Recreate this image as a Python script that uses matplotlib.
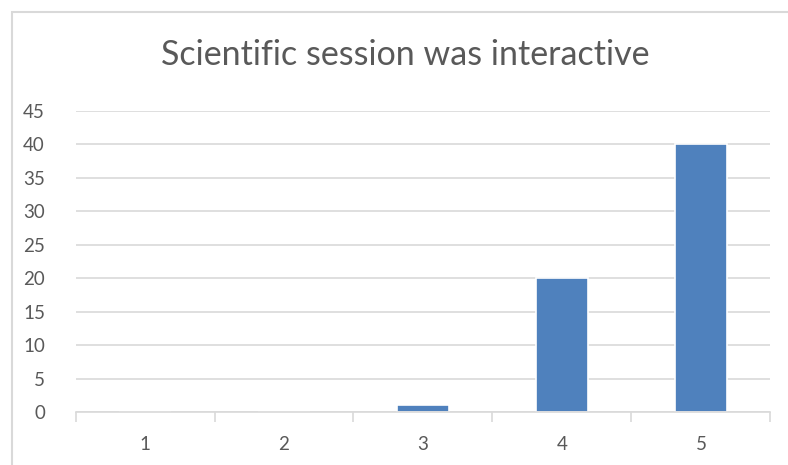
import matplotlib
matplotlib.use("Agg")
import matplotlib.pyplot as plt
from matplotlib.patches import Rectangle

# chart data
categories = ["1", "2", "3", "4", "5"]
counts = [0, 0, 1, 20, 40]
y_ticks = [0, 5, 10, 15, 20, 25, 30, 35, 40, 45]
title = "Scientific session was interactive"

plt.rcParams['font.family'] = ['Lato', 'DejaVu Sans']

W, H = 788, 465
fig = plt.figure(figsize=(W / 100, H / 100), dpi=100)

# outer chart border (cropped on right/bottom like the screenshot)
fig.patches.append(Rectangle((12 / W, -0.1), 1.2, 1 - 12 / H + 0.1,
                             transform=fig.transFigure, fill=False,
                             edgecolor="#d9d9d9", linewidth=1.5))

# plot area in pixels: left 75.5, right 770.5, top(45) 111, bottom(0) 412
ax = fig.add_axes([75.5 / W, (H - 412) / H, (770.5 - 75.5) / W, (412 - 111) / H])

x = range(len(categories))
ax.bar(x, counts, width=0.37, color="#4f81bd", edgecolor="white",
       linewidth=1.2, zorder=2)

ax.set_xlim(-0.5, len(categories) - 0.5)
ax.set_ylim(0, 45)
ax.set_yticks(y_ticks)
ax.set_xticks(list(x))
ax.set_xticklabels(categories)

ax.set_axisbelow(True)
ax.grid(axis="y", color="#d9d9d9", linewidth=1.2)
for s in ["top", "right", "left"]:
    ax.spines[s].set_visible(False)
ax.spines["bottom"].set_color("#d9d9d9")
ax.spines["bottom"].set_linewidth(1.2)
ax.spines["bottom"].set_zorder(3)

# category boundary ticks under the axis
ax.set_xticks([i - 0.5 for i in range(len(categories) + 1)], minor=True)
ax.tick_params(axis="x", which="minor", length=7, color="#d9d9d9", width=1.2)
ax.tick_params(axis="x", which="major", length=0, pad=17,
               labelsize=13.5, labelcolor="#595959")
ax.tick_params(axis="y", length=0, pad=22, labelsize=13.5, labelcolor="#595959")

fig.text(405 / W, 1 - 55 / H, title, ha="center", va="center",
         fontsize=24.5, color="#595959")

fig.savefig("out.png", dpi=100)
